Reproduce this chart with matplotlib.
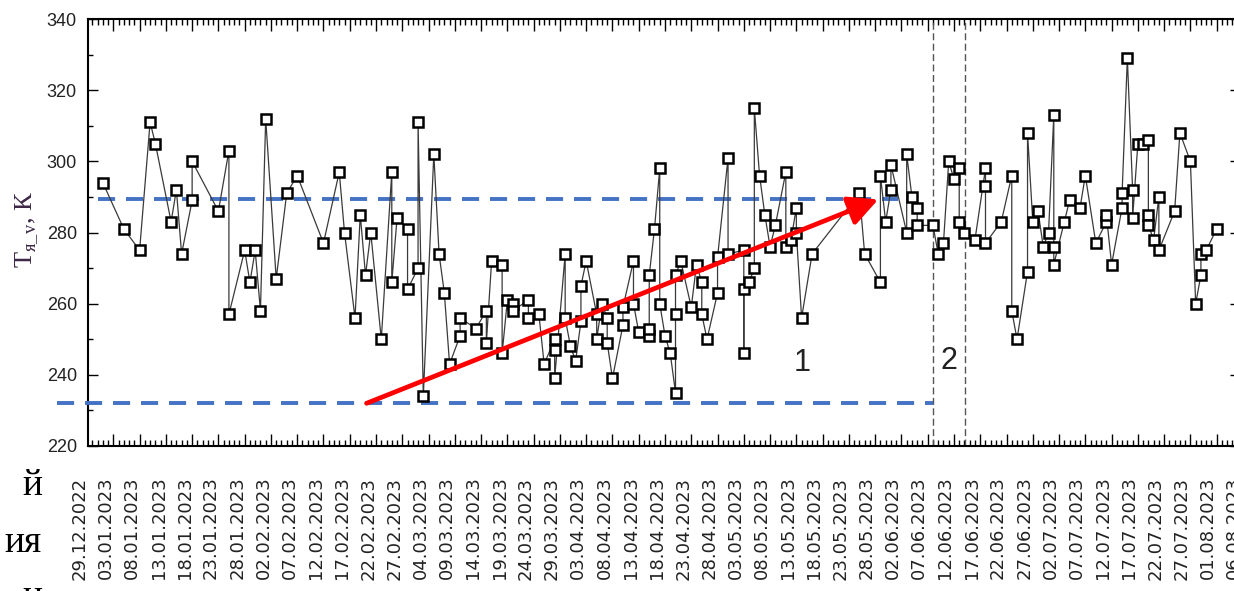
import matplotlib
matplotlib.use('Agg')
import matplotlib.pyplot as plt
import pandas as pd
from matplotlib.ticker import MultipleLocator

# days counted from the first measurement, several readings may share a day
day = [0, 4, 7, 9, 10, 13, 14, 15, 17, 17, 22, 24, 24, 27, 28, 29, 30, 31,
       33, 35, 37, 42, 45, 46, 48, 49, 50, 51, 53, 55, 55, 56, 58, 58, 60, 60,
       61, 63, 64, 65, 66, 68, 68, 71, 73, 73, 74, 76, 76, 77, 78, 78, 81, 81,
       83, 84, 86, 86, 86, 88, 88, 89, 90, 91, 91, 92, 94, 94, 95, 96, 96, 97,
       99, 99, 101, 101, 102, 104, 104, 104, 105, 106, 106, 107, 108, 109, 109,
       109, 110, 112, 113, 114, 114, 115, 117, 117, 119, 119, 122, 122, 122,
       123, 124, 124, 125, 126, 127, 128, 130, 130, 131, 132, 132, 133, 135,
       144, 145, 148, 148, 149, 150, 150, 153, 153, 154, 155, 155, 158, 159,
       160, 161, 162, 163, 163, 164, 166, 168, 168, 168, 171, 173, 173, 174,
       176, 176, 177, 178, 179, 180, 181, 181, 181, 183, 184, 186, 187, 189,
       191, 191, 192, 194, 194, 195, 196, 196, 197, 198, 199, 199, 199, 200,
       201, 201, 204, 205, 207, 208, 209, 209, 210, 212]

temp = [294, 281, 275, 311, 305, 283, 292, 274, 289, 300, 286, 303, 257, 275,
        266, 275, 258, 312, 267, 291, 296, 277, 297, 280, 256, 285, 268, 280,
        250, 297, 266, 284, 281, 264, 270, 311, 234, 302, 274, 263, 243, 251,
        256, 253, 258, 249, 272, 271, 246, 261, 260, 258, 261, 256, 257, 243,
        250, 247, 239, 274, 256, 248, 244, 255, 265, 272, 257, 250, 260, 256,
        249, 239, 254, 259, 272, 260, 252, 251, 253, 268, 281, 298, 260, 251,
        246, 235, 257, 268, 272, 259, 271, 266, 257, 250, 263, 273, 301, 274,
        275, 246, 264, 266, 270, 315, 296, 285, 276, 282, 297, 276, 278, 287,
        280, 256, 274, 291, 274, 266, 296, 283, 292, 299, 280, 302, 290, 287,
        282, 282, 274, 277, 300, 295, 298, 283, 280, 278, 298, 293, 277, 283,
        296, 258, 250, 269, 308, 283, 286, 276, 280, 313, 276, 271, 283, 289,
        287, 296, 277, 283, 285, 271, 287, 291, 329, 292, 284, 305, 305, 306,
        285, 282, 278, 290, 275, 286, 308, 300, 260, 268, 274, 275, 281]

upper_level = 289.5
upper_span = [-0.9, 151.4]
lower_level = 232.0
lower_span = [-8.7, 158.1]
split_days = [158.1, 164.1]
trend_start = (50.2, 232.0)
trend_end = (147.6, 289.3)
zone_labels = ['1', '2']
zone_pos = [(133.1, 243.2), (161.1, 243.8)]

date_labels = list(pd.date_range('2022-12-29', periods=45, freq='5D').strftime('%d.%m.%Y'))

plt.rcParams['font.family'] = ['Liberation Sans', 'DejaVu Sans']

fig = plt.figure(figsize=(12.34, 5.91), dpi=100)

# the date column is a bit wider than the plot frame, so it gets its own axes
# spanning the whole figure width with the same day scale
lab = fig.add_axes([0, 145 / 591, 1, 427 / 591], zorder=0)
lab.set_xlim(-102.8 / 5.254, (1234 - 102.8) / 5.254)
lab.patch.set_visible(False)
for s in lab.spines.values():
    s.set_visible(False)
lab.set_yticks([])
label_pos = [5 * k - 4.34 for k in range(len(date_labels))]
lab.set_xticks(label_pos, labels=date_labels, rotation=90,
               fontfamily='DejaVu Sans', fontsize=13, color='#222222')
lab.tick_params(axis='x', length=0, pad=22)

ax = fig.add_axes([88 / 1234, 145 / 591, 1152 / 1234, 427 / 591], zorder=1)
ax.patch.set_visible(False)

# measurements
ax.plot(day, temp, color='#3a3a3a', lw=0.9, marker='s', ms=7.5,
        mfc='white', mec='black', mew=1.8, zorder=4)

# reference levels
for lev, span in [(upper_level, upper_span), (lower_level, lower_span)]:
    ax.plot(span, [lev, lev], color='#4472C4', lw=2.8, dashes=(4.4, 2.8),
            clip_on=False, zorder=3)

for d in split_days:
    ax.axvline(d, color='#555555', lw=1.0, dashes=(5, 2.5), zorder=2)

ax.annotate('', xy=trend_end, xytext=trend_start,
            arrowprops=dict(arrowstyle='-|>,head_length=0.9,head_width=0.45',
                            color='red', lw=3.4, mutation_scale=20,
                            shrinkA=0, shrinkB=0), zorder=5)

for txt, (x, y) in zip(zone_labels, zone_pos):
    ax.text(x, y, txt, ha='center', va='center', fontsize=22, color='#222222')

ax.set_xlim(-2.82, 216.44)
ax.set_ylim(220, 340)
ax.xaxis.set_major_locator(MultipleLocator(5, offset=2))
ax.xaxis.set_minor_locator(MultipleLocator(1))
ax.yaxis.set_major_locator(MultipleLocator(20))
ax.yaxis.set_minor_locator(MultipleLocator(10))
ax.tick_params(axis='both', which='both', direction='in', top=True,
               right=True, width=1.0, color='black')
ax.tick_params(axis='x', which='major', length=8.6, labelbottom=False)
ax.tick_params(axis='x', which='minor', length=4.3)
ax.tick_params(axis='y', which='major', length=7, labelsize=13, pad=8,
               labelcolor='#222222')
ax.tick_params(axis='y', which='minor', length=3.6)
for s in ax.spines.values():
    s.set_linewidth(1.5)

fig.text(27 / 1234, 1 - 230 / 591, 'T$_{\\mathregular{я\\_v}}$, К', rotation=90,
         ha='center', va='center', fontsize=19, color='#3c2846',
         family='Liberation Serif')

# bits of page text at the left edge
for txt, yb in [('й', 495), ('ия', 552), ('и', 606)]:
    fig.text(42 / 1234, 1 - yb / 591, txt, ha='right', va='baseline',
             fontsize=27, family='Liberation Serif', color='black')

fig.savefig('out.png', dpi=100)
